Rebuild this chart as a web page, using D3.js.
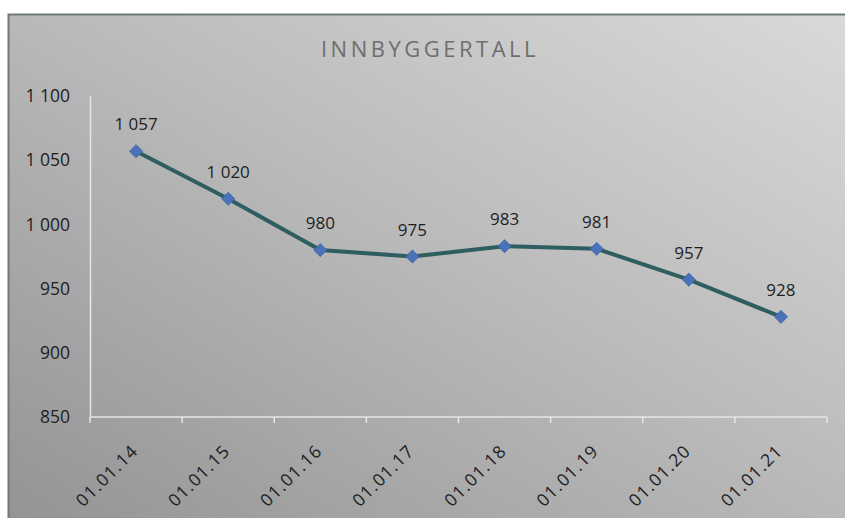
<!DOCTYPE html>
<html>
<head>
<meta charset="utf-8">
<script src="https://cdn.jsdelivr.net/npm/d3@7"></script>
<style>
  html, body { margin: 0; padding: 0; background: #ffffff; }
  svg { display: block; }
  text { font-family: "Open Sans", "Noto Sans", sans-serif; }
</style>
</head>
<body>
<div id="chart"></div>
<script>
// Population on 1 January each year
const dates = ["01.01.14", "01.01.15", "01.01.16", "01.01.17", "01.01.18", "01.01.19", "01.01.20", "01.01.21"];
const population = [1057, 1020, 980, 975, 983, 981, 957, 928];
const yTicks = [850, 900, 950, 1000, 1050, 1100];
const title = "INNBYGGERTALL";

const W = 845, H = 518;
const margin = { left: 90, right: 18, top: 96, bottom: 101 };

const svg = d3.select("#chart").append("svg")
  .attr("width", W).attr("height", H);

// Panel background with a diagonal grey gradient
const defs = svg.append("defs");
const grad = defs.append("linearGradient")
  .attr("id", "panelGrad")
  .attr("x1", "0%").attr("y1", "100%")
  .attr("x2", "100%").attr("y2", "0%");
grad.append("stop").attr("offset", "0%").attr("stop-color", "#939393");
grad.append("stop").attr("offset", "55%").attr("stop-color", "#bcbcbc");
grad.append("stop").attr("offset", "100%").attr("stop-color", "#dadada");

svg.append("rect")
  .attr("x", 8.5).attr("y", 14.5)
  .attr("width", W + 10).attr("height", H)
  .attr("fill", "url(#panelGrad)")
  .attr("stroke", "#6f7a7c").attr("stroke-width", 2);

const x = d3.scaleBand()
  .domain(dates)
  .range([margin.left, W - margin.right])
  .paddingInner(0).paddingOuter(0);

const y = d3.scaleLinear()
  .domain([850, 1100])
  .range([H - margin.bottom, margin.top]);

const cx = d => x(d) + x.bandwidth() / 2;
const fmt = d => d3.format(",")(d).replace(/,/g, " ");

// Title
svg.append("text")
  .attr("x", 430).attr("y", 57)
  .attr("text-anchor", "middle")
  .attr("font-size", 22)
  .attr("letter-spacing", "3.5px")
  .attr("fill", "#6e6e6e")
  .text(title);

// Y axis
const yAxis = svg.append("g")
  .attr("transform", `translate(${margin.left},0)`)
  .call(d3.axisLeft(y).tickValues(yTicks).tickSize(0).tickPadding(20).tickFormat(fmt));
yAxis.select(".domain").attr("stroke", "#e6e6e6").attr("stroke-width", 1.5);
yAxis.selectAll("text")
  .attr("font-size", 17.5).attr("fill", "#1e1e1e")
  .attr("font-family", "'Open Sans', sans-serif");

// X axis with ticks between categories
const xAxis = svg.append("g")
  .attr("transform", `translate(0,${y(850)})`);
xAxis.append("line")
  .attr("x1", margin.left).attr("x2", W - margin.right)
  .attr("stroke", "#e6e6e6").attr("stroke-width", 1.5);
const edges = dates.map(d => x(d)).concat([x(dates[dates.length - 1]) + x.bandwidth()]);
xAxis.selectAll("line.tick")
  .data(edges).enter().append("line")
  .attr("class", "tick")
  .attr("x1", d => d).attr("x2", d => d)
  .attr("y1", 0).attr("y2", 6)
  .attr("stroke", "#e6e6e6").attr("stroke-width", 1.5);
xAxis.selectAll("text")
  .data(dates).enter().append("text")
  .attr("transform", d => `translate(${cx(d) + 3},${35}) rotate(-45)`)
  .attr("text-anchor", "end")
  .attr("font-size", 17.5)
  .attr("letter-spacing", "1.2px")
  .attr("fill", "#1e1e1e")
  .text(d => d);

// Series line
const line = d3.line()
  .x((d, i) => cx(dates[i]))
  .y(d => y(d));

svg.append("path")
  .datum(population)
  .attr("d", line)
  .attr("fill", "none")
  .attr("stroke", "#2e5e60")
  .attr("stroke-width", 4)
  .attr("stroke-linejoin", "round");

// Diamond markers
svg.selectAll("path.marker")
  .data(population).enter().append("path")
  .attr("class", "marker")
  .attr("transform", (d, i) => `translate(${cx(dates[i])},${y(d)})`)
  .attr("d", d3.symbol().type(d3.symbolDiamond2).size(110))
  .attr("fill", "#4a72b8")
  .attr("stroke", "#3f64a6")
  .attr("stroke-width", 0.8);

// Data labels
svg.selectAll("text.value")
  .data(population).enter().append("text")
  .attr("class", "value")
  .attr("x", (d, i) => cx(dates[i]))
  .attr("y", d => y(d) - 21)
  .attr("text-anchor", "middle")
  .attr("font-size", 17)
  .attr("fill", "#1e1e1e")
  .text(fmt);
</script>
</body>
</html>
